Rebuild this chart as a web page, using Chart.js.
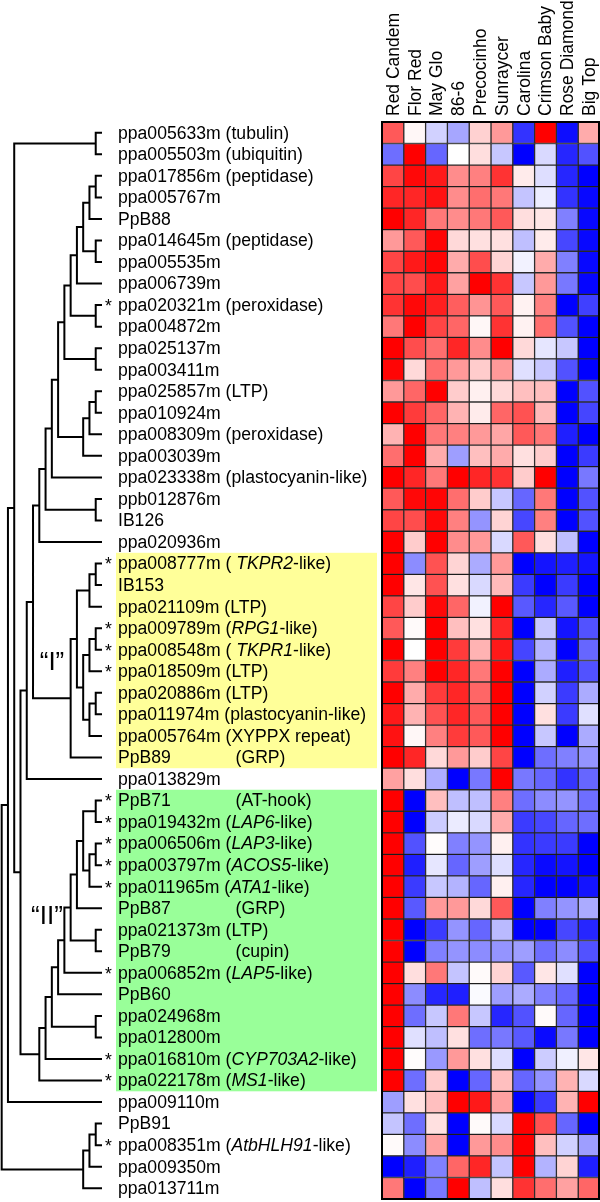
<!DOCTYPE html>
<html>
<head>
<meta charset="utf-8">
<script src="https://cdn.jsdelivr.net/npm/chart.js@4/dist/chart.umd.min.js"></script>
<style>
html,body{margin:0;padding:0;background:#fff;}
#wrap{width:600px;height:1202px;}
</style>
</head>
<body>
<div id="wrap"><canvas id="c" width="600" height="1202"></canvas></div>
<script>
// ---------- data ----------
const cultivars = ['Red Candem','Flor Red','May Glo','86-6','Precocinho','Sunraycer','Carolina','Crimson Baby','Rose Diamond','Big Top'];

const genes = ['ppa005633m','ppa005503m','ppa017856m','ppa005767m','PpB88','ppa014645m','ppa005535m','ppa006739m','ppa020321m','ppa004872m',
 'ppa025137m','ppa003411m','ppa025857m','ppa010924m','ppa008309m','ppa003039m','ppa023338m','ppb012876m','IB126','ppa020936m',
 'ppa008777m','IB153','ppa021109m','ppa009789m','ppa008548m','ppa018509m','ppa020886m','ppa011974m','ppa005764m','PpB89',
 'ppa013829m','PpB71','ppa019432m','ppa006506m','ppa003797m','ppa011965m','PpB87','ppa021373m','PpB79','ppa006852m',
 'PpB60','ppa024968m','ppa012800m','ppa016810m','ppa022178m','ppa009110m','PpB91','ppa008351m','ppa009350m','ppa013711m'];

// text between underscores is italic
const notes = ['(tubulin)','(ubiquitin)','(peptidase)','','','(peptidase)','','','(peroxidase)','',
 '','','(LTP)','','(peroxidase)','','(plastocyanin-like)','','','',
 '( _TKPR2_-like)','','(LTP)','(_RPG1_-like)','( _TKPR1_-like)','(LTP)','(LTP)','(plastocyanin-like)','(XYPPX repeat)','(GRP)',
 '','(AT-hook)','(_LAP6_-like)','(_LAP3_-like)','(_ACOS5_-like)','(_ATA1_-like)','(GRP)','(LTP)','(cupin)','(_LAP5_-like)',
 '','','','(_CYP703A2_-like)','(_MS1_-like)','','','(_AtbHLH91_-like)','',''];

const starred = [8,20,23,24,25,31,32,33,34,35,39,43,44,47];

const groupI = [20, 29];
const groupII = [31, 44];

// relative expression (-1 = blue, 0 = white, +1 = red), one row per gene
const expression = [
 [0.65,0.03,-0.18,-0.35,0.18,0.40,-0.80,1.00,-0.95,0.33],
 [-0.57,1.00,-0.60,0.00,0.13,-0.22,-1.00,-0.15,-0.85,-0.68],
 [0.73,0.97,0.90,0.45,0.50,0.80,0.08,-0.13,-0.85,-1.00],
 [0.85,0.85,0.93,0.45,0.57,0.53,-0.23,-0.07,-0.80,-0.97],
 [1.00,0.85,0.53,0.45,0.53,0.65,0.13,0.10,-0.50,-0.97],
 [0.40,0.65,0.98,0.15,0.12,0.12,-0.25,0.08,-0.72,-0.97],
 [0.73,0.90,0.98,0.33,0.70,0.17,-0.05,0.33,-0.50,-0.97],
 [0.73,0.70,0.90,0.37,1.00,0.80,-0.22,0.40,-0.53,-0.98],
 [0.80,0.97,0.88,0.63,0.42,0.65,0.05,0.50,-1.00,-0.75],
 [0.53,1.00,0.73,0.60,0.03,0.80,0.05,0.57,-0.68,-1.00],
 [1.00,0.70,0.57,0.85,0.45,1.00,0.15,-0.10,-0.22,-1.00],
 [0.98,0.15,0.57,0.40,0.20,0.40,-0.12,-0.22,-0.68,-1.00],
 [0.40,0.60,1.00,0.20,0.06,0.15,0.25,0.25,-1.00,-0.68],
 [1.00,0.77,0.60,0.30,0.08,0.60,0.68,0.27,-1.00,-0.73],
 [0.30,1.00,0.53,0.50,0.40,0.35,0.65,0.53,-0.88,-1.00],
 [0.57,1.00,0.33,-0.38,0.25,0.33,0.12,0.20,-1.00,-0.77],
 [1.00,0.85,0.53,1.00,0.85,0.80,0.20,1.00,-1.00,-0.53],
 [0.65,0.97,0.98,0.57,0.20,-0.22,-0.60,0.53,-1.00,-0.68],
 [0.73,0.70,0.97,0.50,-0.42,0.17,-0.72,0.50,-1.00,-0.68],
 [1.00,0.20,1.00,0.45,0.40,-0.15,0.65,0.13,-0.25,-1.00],
 [1.00,-0.45,0.68,0.17,-0.33,0.40,-1.00,-0.92,-0.88,-0.92],
 [1.00,0.10,0.68,0.12,-0.15,0.27,-0.77,-1.00,-0.77,-1.00],
 [0.73,0.20,0.97,0.60,-0.05,1.00,-0.65,-0.85,-0.65,-1.00],
 [0.65,0.02,1.00,0.25,0.12,0.85,-1.00,-0.22,-0.92,-0.68],
 [1.00,0.00,1.00,0.77,0.30,0.90,-0.73,-0.30,-1.00,-0.60],
 [0.77,0.50,1.00,0.85,0.53,1.00,-1.00,-0.33,-0.88,-0.68],
 [1.00,0.33,0.77,0.85,0.60,1.00,-1.00,-0.18,-0.77,-0.33],
 [0.90,0.30,0.68,0.85,0.65,1.00,-1.00,0.12,-0.77,-0.12],
 [0.93,0.03,0.50,0.77,0.65,1.00,-1.00,-0.22,-1.00,-0.33],
 [1.00,0.85,0.15,0.40,0.20,0.73,-1.00,-0.57,-0.50,-0.42],
 [0.37,0.13,-0.32,-1.00,-0.53,1.00,-0.53,-0.60,-0.80,-0.60],
 [1.00,-1.00,0.25,-0.25,-0.25,0.50,-0.57,-0.45,-0.42,-0.57],
 [1.00,-1.00,-0.20,-0.08,-0.15,0.33,-0.77,-0.72,-0.60,-0.57],
 [1.00,-0.68,0.01,-0.50,-0.42,0.06,-0.80,-0.77,-0.77,-1.00],
 [1.00,-0.88,-0.10,-0.60,-0.38,-0.13,-0.85,-0.96,-0.92,-1.00],
 [1.00,-0.77,-0.22,-0.30,-0.60,0.06,-0.85,-1.00,-1.00,-0.92],
 [1.00,-0.65,0.40,0.40,0.15,0.65,-1.00,-0.50,-0.42,-0.33],
 [1.00,-1.00,-0.77,-0.42,-0.60,-0.27,-1.00,-1.00,-0.72,-0.85],
 [1.00,-1.00,-0.50,-0.42,-0.45,-0.42,-0.38,-0.57,-0.45,-0.68],
 [1.00,0.13,0.53,-0.23,0.02,0.17,-0.65,0.10,-0.12,-1.00],
 [1.00,-0.45,-0.85,-0.88,-0.02,-0.38,-0.33,-0.50,-0.60,-1.00],
 [1.00,-0.57,-0.22,0.53,-0.22,-0.85,-0.68,0.02,-0.60,-1.00],
 [1.00,-0.12,-0.25,0.12,-0.57,-0.53,-0.65,-0.96,-0.53,-1.00],
 [1.00,0.01,-0.40,0.40,0.12,-0.13,-1.00,-0.20,-0.06,0.10],
 [1.00,-0.57,0.20,-1.00,-0.60,0.25,-0.60,-0.42,0.30,-0.15],
 [-0.38,0.12,0.25,1.00,0.90,0.37,-1.00,-0.77,0.30,1.00],
 [-0.23,-0.57,0.12,-1.00,0.02,-0.15,1.00,0.68,-0.60,-1.00],
 [0.02,-0.45,0.37,-1.00,0.40,0.45,1.00,0.25,-0.18,-0.38],
 [-1.00,-0.88,-0.50,0.60,0.85,-0.23,1.00,-0.30,0.17,-0.88],
 [0.53,-1.00,-0.53,1.00,-0.25,0.13,0.80,0.57,0.37,0.60]
];

// hierarchical clustering of the rows (leaf = row index)
const tree = [
 [
  [
   [0,1],
   [
    [
     [
      [
       [
        [
         [
          [
           [
            [
             [[[2,3],4],[5,6]],
             7],
            [8,9]],
           [10,11]],
          [[[12,13],14],15]],
         16],
        [17,18]],
       19],
      [[[[20,21],22],[[[23,24],25],[[26,27],28]]],29]],
     30],
    [[[[[[[[[31,32],[[33,34],35]],36],[37,38]],39],40],[41,42]],43],44]
   ]
  ],
  45
 ],
 [[[46,47],48],49]
];

// ---------- helpers ----------
function heat(v){
  if (v >= 0){ const c = Math.round(255*(1-v)); return `rgb(255,${c},${c})`; }
  const c = Math.round(255*(1+v)); return `rgb(${c},${c},255)`;
}

const dendro = [];
function build(node){
  if (typeof node === 'number') return {y: node, level: 0};
  const a = build(node[0]), b = build(node[1]);
  const level = Math.max(a.level, b.level) + 1;
  dendro.push({x:-a.level,y:a.y},{x:-level,y:a.y},{x:-level,y:b.y},{x:-b.level,y:b.y},{x:null,y:null});
  return {y:(a.y+b.y)/2, level};
}
build(tree);

const FONT = '"Liberation Sans", Arial, Helvetica, sans-serif';
const FS = 17.6;

function drawRich(ctx, x, y, s){
  const parts = s.split('_');
  parts.forEach((p,k)=>{
    ctx.font = (k%2 ? 'italic ' : '') + FS + 'px ' + FONT;
    ctx.fillText(p, x, y);
    x += ctx.measureText(p).width;
  });
}

const overlay = {
  id:'overlay',
  beforeDatasetsDraw(chart){
    const ctx = chart.ctx, y = chart.scales.y;
    const h = (y.getPixelForValue(1) - y.getPixelForValue(0));
    ctx.save();
    ctx.fillStyle = '#ffff99';
    ctx.fillRect(116, y.getPixelForValue(groupI[0]) - h/2, 261, (groupI[1]-groupI[0]+1)*h);
    ctx.fillStyle = '#99ff99';
    ctx.fillRect(116, y.getPixelForValue(groupII[0]) - h/2, 261, (groupII[1]-groupII[0]+1)*h);
    ctx.restore();
  },
  afterDatasetsDraw(chart){
    const ctx = chart.ctx, x = chart.scales.x, y = chart.scales.y, y2 = chart.scales.y2;
    ctx.save();
    // heatmap frame
    const x0 = x.getPixelForValue(0), x1 = x.getPixelForValue(cultivars.length);
    const top = chart.chartArea.top, bot = chart.chartArea.bottom;
    ctx.strokeStyle = '#000'; ctx.lineWidth = 2;
    ctx.strokeRect(x0, top, x1 - x0 - 1, bot - top);
    // column labels
    ctx.fillStyle = '#000';
    ctx.font = '17.5px ' + FONT;
    ctx.textAlign = 'left'; ctx.textBaseline = 'middle';
    cultivars.forEach((c,j)=>{
      ctx.save();
      ctx.translate(x.getPixelForValue(j+0.5) + 1, top - 6);
      ctx.rotate(-Math.PI/2);
      ctx.fillText(c, 0, 0);
      ctx.restore();
    });
    // row labels
    ctx.textBaseline = 'middle';
    ctx.font = FS + 'px ' + FONT;
    const idW = ctx.measureText('ppa000000m ').width;
    genes.forEach((g,i)=>{
      const py = y.getPixelForValue(i) + 1;
      ctx.font = FS + 'px ' + FONT;
      ctx.fillText(g, 118, py);
      if (starred.includes(i)) ctx.fillText('*', 105, py + 1);
      if (notes[i]){
        ctx.font = FS + 'px ' + FONT;
        let nx = 118 + ctx.measureText(g + ' ').width;
        if (g.startsWith('PpB')) nx = Math.max(nx, 118 + idW + 10);
        drawRich(ctx, nx, py, notes[i]);
      }
    });
    // cluster names
    ctx.font = '26px ' + FONT;
    ctx.textAlign = 'center';
    ctx.fillText('\u201cI\u201d', 52, y2.getPixelForValue(24.6));
    ctx.fillText('\u201cII\u201d', 47, y2.getPixelForValue(36.4));
    ctx.restore();
  }
};

const datasets = cultivars.map((c,j)=>({
  type:'bar',
  label:c,
  data: genes.map(()=>1),
  backgroundColor: expression.map(r=>heat(r[j])),
  borderColor:'rgba(0,0,0,0.8)',
  borderWidth:1,
  borderSkipped:false,
  barPercentage:1,
  categoryPercentage:1,
  grouped:false,
  xAxisID:'x', yAxisID:'y', stack:'heat'
}));
datasets.push({
  type:'line',
  label:'dendrogram',
  data: dendro,
  xAxisID:'xd', yAxisID:'y2',
  borderColor:'#000', borderWidth:2,
  pointRadius:0, spanGaps:false, fill:false, tension:0,
  borderJoinStyle:'miter'
});

new Chart(document.getElementById('c'), {
  type:'bar',
  data:{ labels: genes, datasets },
  options:{
    indexAxis:'y',
    responsive:false,
    animation:false,
    layout:{padding:{top:122,bottom:3,left:0,right:0}},
    plugins:{legend:{display:false}, tooltip:{enabled:false}},
    scales:{
      x:{type:'linear', stacked:true, min:-17.523, max:10, offset:false, display:false},
      y:{type:'category', stacked:true, offset:true, display:false},
      xd:{type:'linear', min:-16.268, max:79.43, offset:false, display:false},
      y2:{type:'linear', min:-0.5, max:49.5, reverse:true, offset:false, display:false}
    }
  },
  plugins:[overlay]
});
</script>
</body>
</html>
